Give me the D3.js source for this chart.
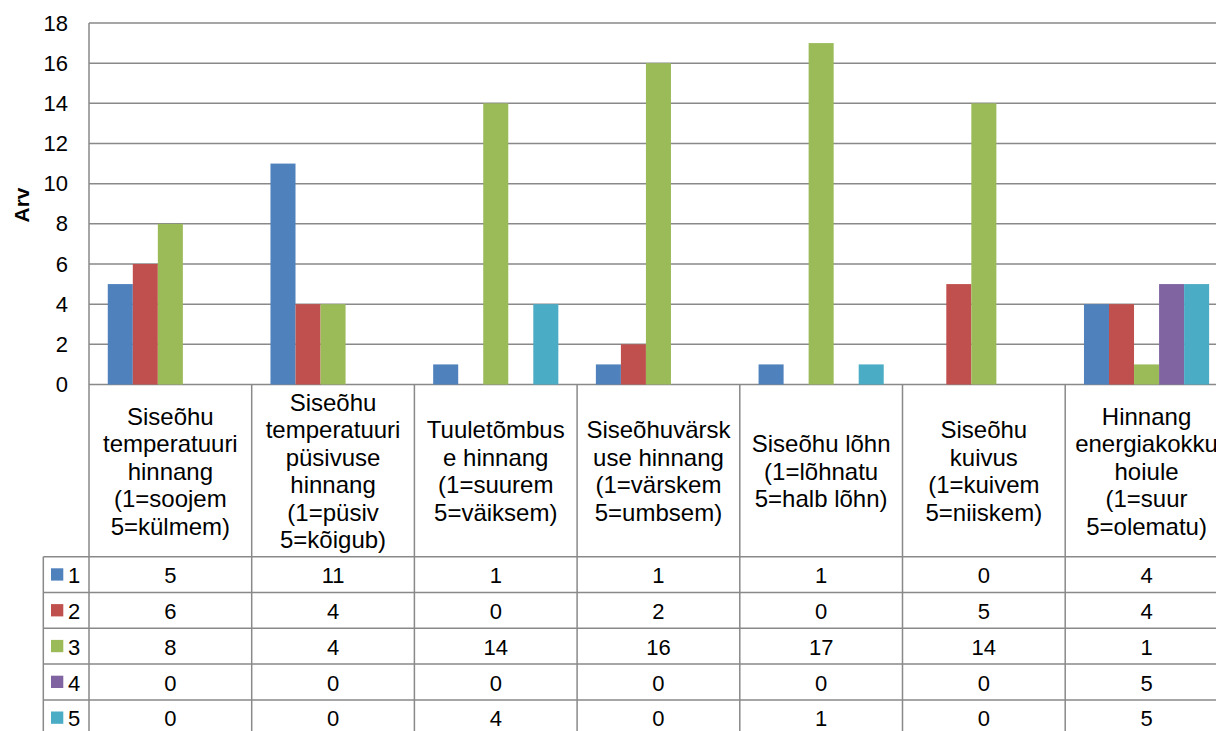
<!DOCTYPE html>
<html>
<head>
<meta charset="utf-8">
<script src="https://cdn.jsdelivr.net/npm/d3@7"></script>
<style>
  html, body { margin: 0; padding: 0; background: #fff; overflow: hidden; }
  svg { display: block; font-family: "Liberation Sans", Arial, sans-serif; }
</style>
</head>
<body>
<svg id="chart" width="1216" height="731"></svg>
<script>
// Category labels, one array of wrapped lines per category
const categoryLines = [
  ["Siseõhu", "temperatuuri", "hinnang", "(1=soojem", "5=külmem)"],
  ["Siseõhu", "temperatuuri", "püsivuse", "hinnang", "(1=püsiv", "5=kõigub)"],
  ["Tuuletõmbus", "e hinnang", "(1=suurem", "5=väiksem)"],
  ["Siseõhuvärsk", "use hinnang", "(1=värskem", "5=umbsem)"],
  ["Siseõhu lõhn", "(1=lõhnatu", "5=halb lõhn)"],
  ["Siseõhu", "kuivus", "(1=kuivem", "5=niiskem)"],
  ["Hinnang", "energiakokku", "hoiule", "(1=suur", "5=olematu)"]
];

// Series names (answer scores) and their counts per category
const seriesNames = ["1", "2", "3", "4", "5"];
const series1 = [5, 11, 1, 1, 1, 0, 4];
const series2 = [6, 4, 0, 2, 0, 5, 4];
const series3 = [8, 4, 14, 16, 17, 14, 1];
const series4 = [0, 0, 0, 0, 0, 0, 5];
const series5 = [0, 0, 4, 0, 1, 0, 5];
const seriesColors = ["#4F81BD", "#C0504D", "#9BBB59", "#8064A2", "#4BACC6"];

const yTicks = [0, 2, 4, 6, 8, 10, 12, 14, 16, 18];
const yTitle = "Arv";

const seriesValues = [series1, series2, series3, series4, series5];

const svg = d3.select("#chart");

// Layout
const plotLeft = 89;
const catWidth = 162.7;
const plotRight = plotLeft + catWidth * categoryLines.length;
const plotTop = 23;
const plotBottom = 384.5;
const headerBottom = 556.7;
const rowHeight = 35.8;
const legendLeft = 43.3;
const gridColor = "#898989";

const x = d3.scaleBand()
  .domain(d3.range(categoryLines.length))
  .range([plotLeft, plotRight])
  .paddingInner(0).paddingOuter(0);

const xInner = d3.scaleBand()
  .domain(seriesNames)
  .range([0, x.bandwidth()])
  .paddingInner(0)
  .paddingOuter(0.75);

const y = d3.scaleLinear().domain([0, 18]).range([plotBottom, plotTop]);

// Horizontal gridlines
svg.append("g")
  .selectAll("line")
  .data(yTicks)
  .join("line")
  .attr("x1", plotLeft).attr("x2", plotRight)
  .attr("y1", d => y(d)).attr("y2", d => y(d))
  .attr("stroke", gridColor).attr("stroke-width", 1.5);

// Y axis labels
const yAxis = d3.axisLeft(y).tickValues(yTicks).tickSize(0).tickPadding(21);
const yAxisG = svg.append("g")
  .attr("transform", `translate(${plotLeft},0)`)
  .call(yAxis);
yAxisG.select(".domain").remove();
yAxisG.selectAll("text")
  .attr("font-family", "Liberation Sans, Arial, sans-serif")
  .attr("font-size", 22)
  .attr("fill", "#000");

// Axis title
svg.append("text")
  .attr("transform", `translate(21,${205}) rotate(-90)`)
  .attr("text-anchor", "middle")
  .attr("dominant-baseline", "central")
  .attr("font-size", 21)
  .attr("font-weight", "bold")
  .text(yTitle);

// Bars
const barData = [];
seriesValues.forEach((vals, si) => {
  vals.forEach((v, ci) => barData.push({ s: seriesNames[si], si, ci, v }));
});
svg.append("g")
  .selectAll("rect")
  .data(barData.filter(d => d.v > 0))
  .join("rect")
  .attr("x", d => x(d.ci) + xInner(d.s))
  .attr("width", xInner.bandwidth())
  .attr("y", d => y(d.v))
  .attr("height", d => y(0) - y(d.v))
  .attr("fill", d => seriesColors[d.si]);

// Data table
const tableG = svg.append("g");
const tableBottom = headerBottom + rowHeight * seriesNames.length;

// Vertical lines: category boundaries
tableG.selectAll("line.v")
  .data(d3.range(categoryLines.length + 1))
  .join("line")
  .attr("class", "v")
  .attr("x1", d => plotLeft + d * catWidth)
  .attr("x2", d => plotLeft + d * catWidth)
  .attr("y1", d => d === 0 ? plotTop : plotBottom)
  .attr("y2", tableBottom)
  .attr("stroke", gridColor).attr("stroke-width", 1.5);

// Legend column left edge
tableG.append("line")
  .attr("x1", legendLeft).attr("x2", legendLeft)
  .attr("y1", headerBottom).attr("y2", tableBottom)
  .attr("stroke", gridColor).attr("stroke-width", 1.5);

// Horizontal row lines
tableG.selectAll("line.h")
  .data(d3.range(seriesNames.length + 1))
  .join("line")
  .attr("class", "h")
  .attr("x1", legendLeft).attr("x2", plotRight)
  .attr("y1", d => headerBottom + d * rowHeight)
  .attr("y2", d => headerBottom + d * rowHeight)
  .attr("stroke", gridColor).attr("stroke-width", 1.5);

// Category header text
const headerCenter = (plotBottom + headerBottom) / 2 + 0.5;
const lineH = 27.5;
categoryLines.forEach((lines, ci) => {
  const cx = x(ci) + x.bandwidth() / 2;
  const t = tableG.append("text")
    .attr("text-anchor", "middle")
    .attr("font-size", 24)
    .attr("fill", "#000");
  lines.forEach((ln, li) => {
    t.append("tspan")
      .attr("x", cx)
      .attr("y", headerCenter + (li - (lines.length - 1) / 2) * lineH)
      .attr("dominant-baseline", "central")
      .text(ln);
  });
});

// Rows: legend key + values
seriesNames.forEach((name, si) => {
  const rowMid = headerBottom + si * rowHeight + rowHeight / 2;
  tableG.append("rect")
    .attr("x", 51).attr("y", rowMid - 6.3)
    .attr("width", 12.3).attr("height", 12.3)
    .attr("fill", seriesColors[si]);
  tableG.append("text")
    .attr("x", 68).attr("y", rowMid + 1)
    .attr("dominant-baseline", "central")
    .attr("font-size", 22)
    .text(name);
  seriesValues[si].forEach((v, ci) => {
    tableG.append("text")
      .attr("x", x(ci) + x.bandwidth() / 2)
      .attr("y", rowMid + 1)
      .attr("text-anchor", "middle")
      .attr("dominant-baseline", "central")
      .attr("font-size", 22)
      .text(v);
  });
});
</script>
</body>
</html>
